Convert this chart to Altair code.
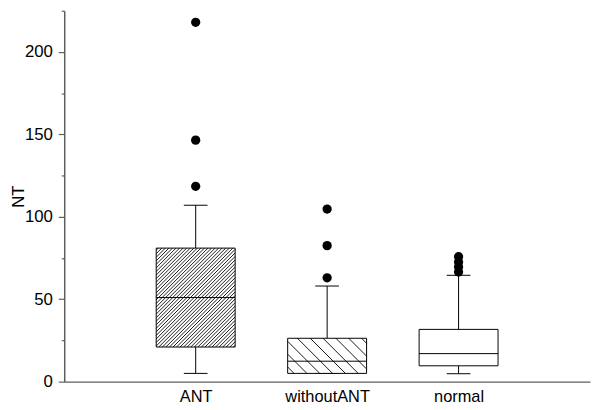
import altair as alt
import pandas as pd

# ---- data ----
categories = ["ANT", "withoutANT", "normal"]
q1 = [21.0, 5.0, 9.6]
median = [51.0, 12.4, 17.0]
q3 = [81.0, 26.3, 31.7]
whisker_lo = [5.0, 5.0, 4.8]
whisker_hi = [107.0, 58.0, 64.5]
outliers_ANT = [118.5, 146.5, 218.0]
outliers_withoutANT = [63.0, 82.5, 104.7]
outliers_normal = [66.5, 69.5, 72.5, 75.8]

# ---- styles / geometry ----
W, H = 533, 376
X_MAX, Y_MAX = 4, 225
BOX_PX = 80
CAP_PX = 24
hatch_style = ["/", "\\", None]
hatch_gap = [3.6, 13.0, 0]
FONT = "Liberation Sans"
AXIS_COLOR = "#5e5e5e"

px_x = W / X_MAX
px_y = H / Y_MAX
pos = [i + 1 for i in range(len(categories))]
half_box = BOX_PX / 2 / px_x
half_cap = CAP_PX / 2 / px_x

box_df = pd.DataFrame({
    "cat": categories, "pos": pos,
    "xl": [p - half_box for p in pos], "xr": [p + half_box for p in pos],
    "cl": [p - half_cap for p in pos], "cr": [p + half_cap for p in pos],
    "q1": q1, "med": median, "q3": q3, "lo": whisker_lo, "hi": whisker_hi,
})

out_rows = []
for i, vals in enumerate([outliers_ANT, outliers_withoutANT, outliers_normal]):
    for v in vals:
        out_rows.append({"cat": categories[i], "pos": pos[i], "v": v})
out_df = pd.DataFrame(out_rows)

# hatch segments clipped to each box (computed in pixel space, converted to data)
hatch_rows = []
for i, style in enumerate(hatch_style):
    if not style:
        continue
    gap = hatch_gap[i]
    wb = BOX_PX
    hb = (q3[i] - q1[i]) * px_y
    x0 = pos[i] - half_box
    local = []
    if style == "/":
        c = -wb + gap / 2
        while c < hb:
            xa, xb = max(0.0, -c), min(wb, hb - c)
            if xb > xa:
                local.append((xa, xa + c, xb, xb + c))
            c += gap
    else:
        c = gap / 2
        while c < wb + hb:
            xa, xb = max(0.0, c - hb), min(wb, c)
            if xb > xa:
                local.append((xa, c - xa, xb, c - xb))
            c += gap
    for a, ua, b, ub in local:
        hatch_rows.append({"x1": x0 + a / px_x, "y1": q1[i] + ua / px_y,
                           "x2": x0 + b / px_x, "y2": q1[i] + ub / px_y})
hatch_df = pd.DataFrame(hatch_rows)

xs = alt.Scale(domain=[0, X_MAX], nice=False, zero=False)
ys = alt.Scale(domain=[0, Y_MAX], nice=False, zero=True)

x_axis = alt.Axis(
    values=pos, labelExpr="['', 'ANT', 'withoutANT', 'normal'][datum.value]",
    ticks=False, grid=False, title=None, domainColor=AXIS_COLOR, domainWidth=1.5,
    labelFont=FONT, labelFontSize=16.6, labelColor="black", labelPadding=7,
)
y_axis = alt.Axis(
    values=list(range(0, Y_MAX + 1, 25)),
    labelExpr="datum.value % 50 === 0 ? datum.label : ''",
    tickSize={"condition": {"test": "datum.value % 50 === 0", "value": 6}, "value": 3},
    tickColor=AXIS_COLOR, tickWidth=1.2, domainColor=AXIS_COLOR, domainWidth=1.5,
    grid=False, title="NT", titleFont=FONT, titleFontSize=17, titleFontWeight="normal",
    titleColor="black", titlePadding=-3,
    labelFont=FONT, labelFontSize=17, labelColor="black", labelPadding=6,
)


def X(field):
    return alt.X(field, scale=xs, axis=x_axis, title=None)


def Y(field):
    return alt.Y(field, scale=ys, axis=y_axis, title="NT")


base = alt.Chart(box_df)

whisk_lo = base.mark_rule(color="black", strokeWidth=1).encode(
    x=X("pos:Q"), y=Y("lo:Q"), y2="q1:Q")
whisk_hi = base.mark_rule(color="black", strokeWidth=1).encode(
    x=X("pos:Q"), y=Y("q3:Q"), y2="hi:Q")
cap_lo = base.mark_rule(color="black", strokeWidth=1).encode(
    x=X("cl:Q"), x2="cr:Q", y=Y("lo:Q"))
cap_hi = base.mark_rule(color="black", strokeWidth=1).encode(
    x=X("cl:Q"), x2="cr:Q", y=Y("hi:Q"))
box_fill = base.mark_rect(fill="white").encode(
    x=X("xl:Q"), x2="xr:Q", y=Y("q1:Q"), y2="q3:Q")
hatch = alt.Chart(hatch_df).mark_rule(color="black", strokeWidth=0.9).encode(
    x=X("x1:Q"), x2="x2:Q", y=Y("y1:Q"), y2="y2:Q")
box_line = base.mark_rect(filled=False, stroke="black", strokeWidth=1).encode(
    x=X("xl:Q"), x2="xr:Q", y=Y("q1:Q"), y2="q3:Q")
med = base.mark_rule(color="black", strokeWidth=1).encode(
    x=X("xl:Q"), x2="xr:Q", y=Y("med:Q"))
outl = alt.Chart(out_df).mark_circle(color="black", opacity=1, size=88).encode(
    x=X("pos:Q"), y=Y("v:Q"))

chart = alt.layer(whisk_lo, whisk_hi, cap_lo, cap_hi, box_fill, hatch, box_line, med, outl).properties(
    width=W, height=H,
    autosize=alt.AutoSizeParams(type="none"),
    padding={"left": 57, "top": 0, "right": 2, "bottom": 26},
    background="white",
).configure_view(strokeWidth=0)

chart.save("out.html", embed_options={"renderer": "svg", "actions": False})
